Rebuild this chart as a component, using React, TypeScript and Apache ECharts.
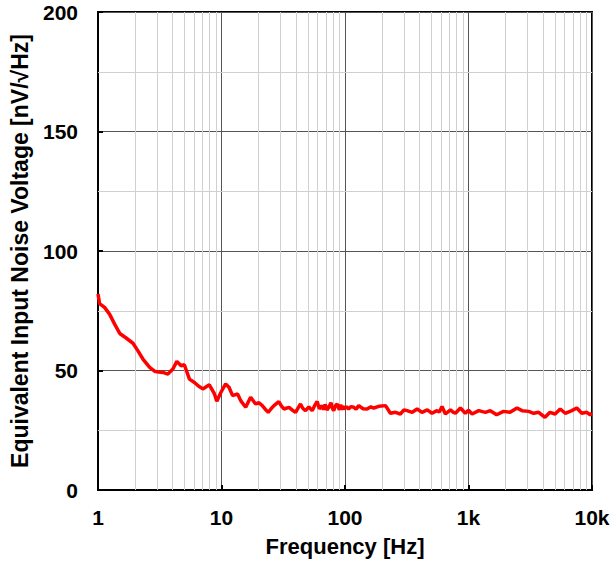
import React, { useEffect, useRef } from "react";
import * as echarts from "echarts";

const freqHz: number[] = [
  1, 1.03, 1.13, 1.24, 1.36, 1.5, 1.69, 1.92, 2.1, 2.31, 2.62, 2.87, 3.1, 3.35, 3.68, 4.04, 4.35, 4.71, 5.0,
  5.5, 6.04, 6.5, 7.06, 7.97, 8.77, 9.16, 9.9, 10.8, 11.5, 12.3, 13.5, 14.3, 15.7, 17.2, 18.9, 20.1, 21.4,
  22.6, 23.9, 25.2, 26.6, 29.1, 30.5, 32, 35.2, 37.5, 39.8, 43.6, 45.5, 47.9, 51, 54.2, 57, 59.5, 62, 65.3,
  67, 69, 71.5, 73.8, 77, 79, 81, 84, 86.6, 90, 92, 94, 96, 98,
  103, 107, 112, 118, 123, 129, 140, 151, 162, 171, 188, 213, 233, 256, 281, 300, 318, 350, 384, 420, 464,
  506, 555, 580, 610, 650, 714, 750, 784, 860, 943, 1000, 1070, 1210, 1370, 1500, 1690, 1920, 2170, 2470,
  2710, 3070, 3370, 3700, 4160, 4570, 5030, 5530, 6070, 6860, 7530, 8270, 9080, 9660, 10000,
];

const noiseNv: number[] = [
  82, 78, 76.4, 73.6, 69.5, 65.5, 63.6, 61.4, 58.3, 54.8, 51.3, 49.7, 49.4, 49.2, 48.5, 50.6, 53.8, 52, 52.4,
  46.4, 45, 43.5, 42.3, 44, 40.2, 37.1, 40.9, 44.4, 43, 39.5, 40.2, 37.4, 34.6, 38.8, 36, 36.5, 35.3,
  33.8, 32.5, 34, 35.3, 37, 35.2, 33.9, 34.6, 33.4, 32.5, 36, 34.2, 33.2, 34.8, 33.2, 35.5, 37, 34, 35.3,
  33.6, 35.8, 33.5, 34.6, 36.5, 34.2, 33.2, 35.4, 36, 33.5, 35.7, 33.6, 35.2, 33.9,
  34.8, 33.9, 34.9, 34.6, 33.8, 35.3, 34, 33.9, 34.8, 34.3, 35, 35.3, 32.1, 32.5, 31.8, 33.5, 33.2, 32.5, 33.9, 32.5, 33.5,
  32.1, 33.2, 32.6, 34.9, 31.8, 33.5, 32.6, 32.1, 34.3, 32.1, 33.4, 31.8, 33.2, 32.5, 33.2, 31.5, 32.9, 32.5, 34.3,
  33.2, 32.9, 32.1, 32.5, 30.4, 32.5, 31.8, 33.9, 32.1, 33.2, 34.3, 32.1, 32.5, 31.5, 32,
];

const minorFreqs: number[] = [
  2, 3, 4, 5, 6, 7, 8, 9,
  20, 30, 40, 50, 60, 70, 80, 90,
  200, 300, 400, 500, 600, 700, 800, 900,
  2000, 3000, 4000, 5000, 6000, 7000, 8000, 9000,
];
const minorLevels: number[] = [25, 75, 125, 175];

const FONT = "'Liberation Sans', Arial, sans-serif";

export default function App() {
  const ref = useRef<HTMLDivElement>(null);
  useEffect(() => {
    if (!ref.current) return;
    const chart = echarts.init(ref.current, undefined, { renderer: "svg" });
    const labelStyle = { fontFamily: FONT, fontWeight: "bold" as const, fontSize: 21, color: "#000" };
    chart.setOption({
      animation: false,
      backgroundColor: "#fff",
      grid: {
        left: 97,
        right: 21,
        top: 12,
        bottom: 71,
        show: true,
        borderColor: "#000",
        borderWidth: 2,
        backgroundColor: "transparent",
      },
      xAxis: {
        type: "log",
        logBase: 10,
        min: 1,
        max: 10000,
        name: "Frequency [Hz]",
        nameLocation: "middle",
        nameGap: 45,
        nameTextStyle: { ...labelStyle, fontSize: 22 },
        axisLine: { show: true, lineStyle: { color: "#000", width: 2 } },
        axisTick: { show: true, inside: true, length: 5, lineStyle: { color: "#000", width: 2 } },
        axisLabel: {
          ...labelStyle,
          margin: 17,
          formatter: (v: number) => (v >= 1000 ? v / 1000 + "k" : String(v)),
        },
        splitLine: { show: true, lineStyle: { color: "#555", width: 1 } },
        minorTick: { show: false },
        minorSplitLine: { show: false },
      },
      yAxis: {
        type: "value",
        min: 0,
        max: 200,
        interval: 50,
        name: "Equivalent Input Noise Voltage [nV/√Hz]",
        nameLocation: "middle",
        nameGap: 67,
        nameRotate: 90,
        nameTextStyle: { ...labelStyle, fontSize: 23 },
        axisLine: { show: true, lineStyle: { color: "#000", width: 2 } },
        axisTick: { show: true, inside: true, length: 5, lineStyle: { color: "#000", width: 2 } },
        axisLabel: { ...labelStyle, margin: 20 },
        splitLine: { show: true, lineStyle: { color: "#555", width: 1 } },
      },
      series: [
        {
          type: "line",
          data: [],
          z: 1,
          silent: true,
          markLine: {
            silent: true,
            symbol: ["none", "none"],
            label: { show: false },
            lineStyle: { color: "#d0d0d0", width: 1, type: "solid" },
            data: [
              ...minorFreqs.map((f) => ({ xAxis: f })),
              ...minorLevels.map((l) => ({ yAxis: l })),
            ],
          },
        },
        {
          type: "line",
          z: 5,
          data: freqHz.map((f, i) => [f, noiseNv[i]]),
          showSymbol: false,
          symbol: "none",
          smooth: false,
          lineStyle: { color: "#ff0000", width: 3.5 },
          itemStyle: { color: "#ff0000" },
        },
      ],
    });
    return () => chart.dispose();
  }, []);
  return (
    <div
      ref={ref}
      style={{ position: "fixed", left: 0, top: 0, width: 613, height: 562 }}
    />
  );
}
